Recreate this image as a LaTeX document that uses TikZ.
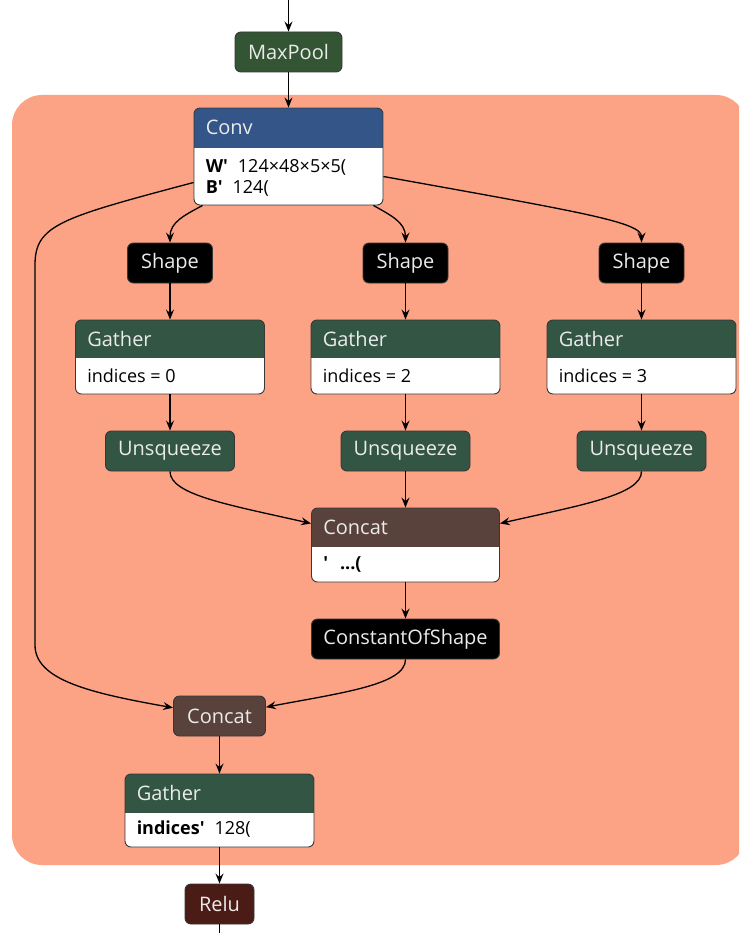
\documentclass[tikz,border=0pt]{standalone}
\usepackage{fontspec}
\setmainfont{Open Sans}
\usetikzlibrary{positioning, arrows.meta, calc}

\definecolor{groupbg}{RGB}{252,163,133}
\definecolor{layercol}{RGB}{51,85,136}
\definecolor{poolcol}{RGB}{51,85,51}
\definecolor{transcol}{RGB}{51,85,68}
\definecolor{tensorcol}{RGB}{89,66,59}
\definecolor{actcol}{RGB}{75,27,22}
\definecolor{edgecol}{RGB}{55,55,55}

\tikzset{
  op/.style={draw=edgecol, line width=0.9pt, rounded corners=6pt, inner sep=0pt,
    minimum height=40pt, text=white!92!black, font=\fontsize{20}{24}\selectfont},
  attrop/.style 2 args={draw=edgecol, line width=0.9pt, rounded corners=6pt, fill=white, inner sep=0pt,
    path picture={\fill[#1, sharp corners] (path picture bounding box.north west)
      rectangle ([yshift=-#2]path picture bounding box.north east);}},
  head/.style={anchor=west, inner sep=0pt, text=white!92!black, font=\fontsize{20}{24}\selectfont},
  attr/.style={anchor=west, inner sep=0pt, font=\fontsize{18}{22}\selectfont},
  link/.style={-{Stealth[length=10pt,width=8pt,inset=3.5pt]}, line width=1.3pt},
}

\begin{document}
\begin{tikzpicture}[x=1pt, y=-1pt]
	\clip (0,0) rectangle (739,933);
	% subgraph region
	\fill[groupbg, rounded corners=30pt] (12,95) rectangle (746,865);
	
	\coordinate (in) at (288.5,0);
	\coordinate (out) at (219.5,933);
	
	\node[op, fill=poolcol, minimum width=107pt] (maxpool) at (288.5,52) {MaxPool};
	
	% Conv with weights
	\node[attrop={layercol}{40pt}, minimum width=189pt, minimum height=97pt] (conv) at (288.5,156.5) {};
	\node[head] (conv-t) at ([xshift=12pt,yshift=-20pt]conv.north west) {Conv};
	\node[attr] (conv-w) at ([xshift=12pt,yshift=-60pt]conv.north west) {\textbf{W\textquotesingle}\hspace{10pt}124×48×5×5(};
	\node[attr] (conv-b) at ([xshift=12pt,yshift=-81pt]conv.north west) {\textbf{B\textquotesingle}\hspace{10pt}124(};
	
	% three shape branches
	\foreach \x/\k/\i in {170/a/0, 405.5/b/2, 641.5/c/3} {
		\node[op, fill=black, minimum width=85pt] (shape\k) at (\x,263) {Shape};
		\node[attrop={transcol}{38pt}, minimum width=189pt, minimum height=74pt] (gather\k) at (\x,357) {};
		\node[head] (gather\k-t) at ([xshift=12pt,yshift=-19pt]gather\k.north west) {Gather};
		\node[attr] (gather\k-a) at ([xshift=12pt,yshift=-56pt]gather\k.north west) {indices = \i};
		\node[op, fill=transcol, minimum width=129pt] (unsq\k) at (\x,451) {Unsqueeze};
		\draw[link] (shape\k) -- (gather\k);
		\draw[link] (gather\k) -- (unsq\k);
	}
	
	\node[attrop={tensorcol}{39pt}, minimum width=188pt, minimum height=74pt] (concat1) at (405.5,545) {};
	\node[head] (concat1-t) at ([xshift=12pt,yshift=-19.5pt]concat1.north west) {Concat};
	\node[attr] (concat1-a) at ([xshift=12pt,yshift=-57pt]concat1.north west) {\textbf{\textquotesingle}\hspace{12pt}\textbf{...(}};
	
	\node[op, fill=black, minimum width=188pt] (cos) at (405.5,639) {ConstantOfShape};
	\node[op, fill=tensorcol, minimum width=92pt] (concat2) at (219.5,716) {Concat};
	
	\node[attrop={transcol}{39pt}, minimum width=189pt, minimum height=73pt] (gatherd) at (219.5,810.5) {};
	\node[head] (gatherd-t) at ([xshift=12pt,yshift=-19.5pt]gatherd.north west) {Gather};
	\node[attr] (gatherd-a) at ([xshift=12pt,yshift=-56pt]gatherd.north west) {\textbf{indices\textquotesingle}\hspace{10pt}128(};
	
	\node[op, fill=actcol, minimum width=69pt] (relu) at (219.5,904) {Relu};
	
	% edges
	\draw[link] (in) -- (maxpool);
	\draw[link] (maxpool) -- (conv);
	\draw[link] ([xshift=9pt]conv.south west) .. controls (185,215) and (170,222) .. (shapea);
	\draw[link] ([xshift=-10pt]conv.south east) .. controls (390,215) and (405.5,222) .. (shapeb);
	\draw[link] ([yshift=-20pt]conv.east) .. controls (580,212) and (641.5,222) .. (shapec);
	\draw[link] ([yshift=-26pt]conv.west) .. controls (60,218) and (35,225) .. (35,265)
		-- (35,645) .. controls (35,680) and (90,693) .. (concat2);
	\draw[link] (unsqa) .. controls (170,495) and (230,505) .. (concat1);
	\draw[link] (unsqb) -- (concat1);
	\draw[link] (unsqc) .. controls (641.5,495) and (581,505) .. (concat1);
	\draw[link] (concat1) -- (cos);
	\draw[link] (cos) .. controls (405.5,685) and (340,693) .. (concat2);
	\draw[link] (concat2) -- (gatherd);
	\draw[link] (gatherd) -- (relu);
	\draw[line width=1.3pt] (relu) -- (out);
\end{tikzpicture}
\end{document}
